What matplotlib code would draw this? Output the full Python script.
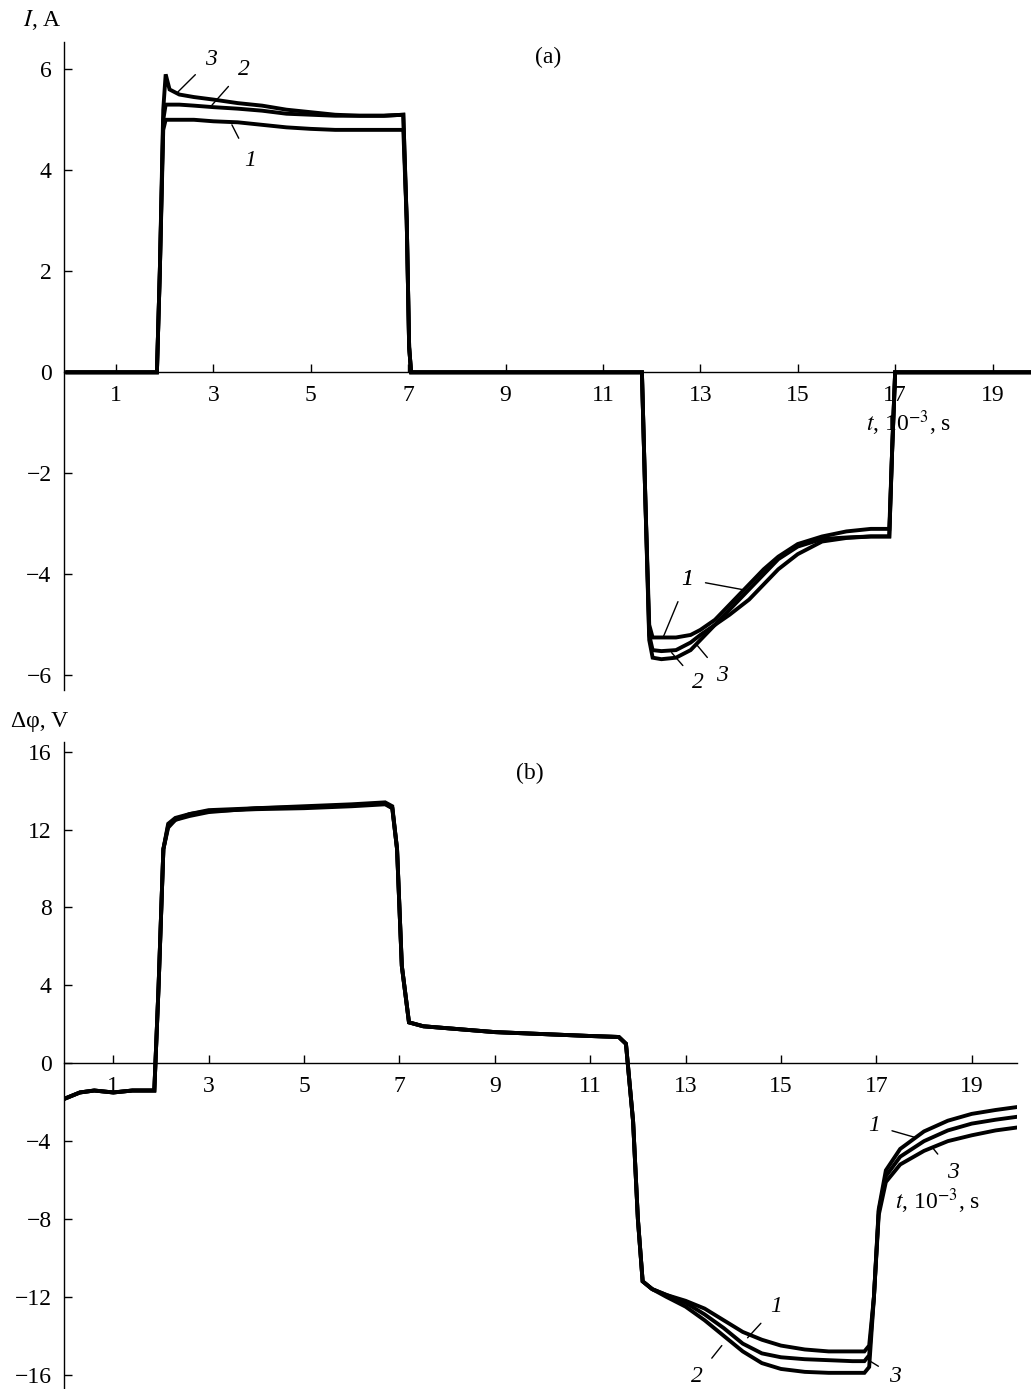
import matplotlib
matplotlib.use("Agg")
import matplotlib.pyplot as plt

plt.rcParams['font.family'] = ['Liberation Serif', 'DejaVu Serif']
plt.rcParams['mathtext.fontset'] = 'stix'

# (a) current I, A
t_a = [0.0, 1.84, 1.9, 1.97, 2.02, 2.1, 2.3, 2.6, 3.0, 3.5, 4.0, 4.5, 5.0, 5.5,
       6.0, 6.5, 6.9, 6.97, 7.02, 7.06, 8.0, 11.8, 11.87, 11.95, 12.02, 12.2,
       12.5, 12.8, 13.0, 13.3, 13.6, 14.0, 14.3, 14.6, 15.0, 15.5, 16.0, 16.5,
       16.88, 16.94, 17.0, 19.8]
I1 = [0, 0, 2.0, 4.8, 5.0, 5.0, 5.0, 5.0, 4.97, 4.95, 4.9, 4.85, 4.82, 4.8,
      4.8, 4.8, 4.8, 3.0, 0.5, 0, 0, 0, -2.5, -5.0, -5.25, -5.25, -5.25, -5.2,
      -5.1, -4.9, -4.6, -4.2, -3.9, -3.65, -3.4, -3.25, -3.15, -3.1, -3.1,
      -1.5, 0, 0]
I2 = [0, 0, 2.0, 5.0, 5.3, 5.3, 5.3, 5.28, 5.25, 5.22, 5.18, 5.12, 5.1, 5.08,
      5.08, 5.08, 5.1, 3.0, 0.5, 0, 0, 0, -2.5, -5.3, -5.65, -5.68, -5.65, -5.5,
      -5.3, -5.0, -4.7, -4.3, -4.0, -3.7, -3.45, -3.3, -3.27, -3.25, -3.25,
      -1.5, 0, 0]
I3 = [0, 0, 2.0, 5.2, 5.9, 5.6, 5.5, 5.45, 5.4, 5.33, 5.28, 5.2, 5.15, 5.1,
      5.08, 5.08, 5.1, 3.0, 0.5, 0, 0, 0, -2.5, -5.2, -5.5, -5.52, -5.5, -5.35,
      -5.2, -5.0, -4.8, -4.5, -4.2, -3.9, -3.6, -3.35, -3.28, -3.25, -3.25,
      -1.5, 0, 0]

# (b) potential difference, V
t_b = [0.0, 0.3, 0.6, 1.0, 1.4, 1.8, 1.86, 1.95, 2.05, 2.15, 2.3, 2.6, 3.0,
       3.5, 4.0, 5.0, 6.0, 6.7, 6.85, 6.95, 7.05, 7.2, 7.5, 8.0, 9.0, 10.0,
       11.0, 11.6, 11.75, 11.9, 12.0, 12.1, 12.3, 12.6, 13.0, 13.4, 13.8, 14.2,
       14.6, 15.0, 15.5, 16.0, 16.5, 16.75, 16.85, 16.95, 17.05, 17.2, 17.5,
       18.0, 18.5, 19.0, 19.5, 19.95]
U1 = [-1.8, -1.5, -1.4, -1.5, -1.4, -1.4, -1.4, 4.0, 11.0, 12.3, 12.6, 12.8,
      13.0, 13.05, 13.1, 13.2, 13.3, 13.4, 13.2, 11.0, 5.0, 2.1, 1.9, 1.8, 1.6,
      1.5, 1.4, 1.35, 1.0, -3.0, -8.0, -11.2, -11.6, -11.9, -12.2, -12.6,
      -13.2, -13.8, -14.2, -14.5, -14.7, -14.8, -14.8, -14.8, -14.5, -12.0,
      -7.5, -5.5, -4.4, -3.5, -2.95, -2.6, -2.4, -2.25]
U2 = [-1.8, -1.5, -1.4, -1.5, -1.4, -1.4, -1.4, 4.0, 11.0, 12.1, 12.5, 12.7,
      12.9, 13.0, 13.05, 13.1, 13.2, 13.3, 13.1, 11.0, 5.0, 2.1, 1.9, 1.8, 1.6,
      1.5, 1.4, 1.35, 1.0, -3.0, -8.0, -11.2, -11.6, -12.0, -12.5, -13.2,
      -14.0, -14.8, -15.4, -15.7, -15.85, -15.9, -15.9, -15.9, -15.6, -12.0,
      -7.8, -6.1, -5.2, -4.5, -4.0, -3.7, -3.45, -3.3]
U3 = [-1.8, -1.5, -1.4, -1.5, -1.4, -1.4, -1.4, 4.0, 11.0, 12.2, 12.5, 12.8,
      12.95, 13.0, 13.1, 13.15, 13.25, 13.35, 13.1, 11.0, 5.0, 2.1, 1.9, 1.8,
      1.6, 1.5, 1.4, 1.35, 1.0, -3.0, -8.0, -11.2, -11.6, -11.9, -12.3, -12.9,
      -13.6, -14.4, -14.9, -15.1, -15.2, -15.25, -15.3, -15.3, -15.0, -12.0,
      -7.6, -5.8, -4.8, -4.0, -3.45, -3.1, -2.9, -2.75]

xticks = [1, 3, 5, 7, 9, 11, 13, 15, 17, 19]
yticks_a = [-6, -4, -2, 0, 2, 4, 6]
yticks_b = [-16, -12, -8, -4, 0, 4, 8, 12, 16]

FS = 17
W, H = 1031, 1389
fig = plt.figure(figsize=(W / 100, H / 100), dpi=100)

def setup(ax, yticks):
  ax.spines['top'].set_visible(False)
  ax.spines['right'].set_visible(False)
  ax.spines['bottom'].set_position(('data', 0))
  for s in ('left', 'bottom'):
    ax.spines[s].set_linewidth(1.0)
  ax.set_xticks(xticks)
  ax.set_yticks(yticks)
  ax.set_yticklabels([str(v).replace('-', '\u2212') for v in yticks])
  ax.tick_params(axis='x', direction='in', length=6, width=1, pad=9, labelsize=FS)
  ax.tick_params(axis='y', direction='in', length=6, width=1, pad=9, labelsize=FS)
  ax.patch.set_alpha(0)

def lead(ax, text, xy, xytext):
  ax.annotate(text, xy=xy, xytext=xytext, fontsize=FS, style='italic',
              ha='center', va='center',
              arrowprops=dict(arrowstyle='-', lw=1.0, color='black',
                              shrinkA=7, shrinkB=0))

# panel (a)
ax1 = fig.add_axes([64 / W, 1 - 690 / H, (W - 64) / W, (690 - 42) / H])
for y in (I1, I2, I3):
  ax1.plot(t_a, y, color='black', lw=2.8, solid_joinstyle='miter', clip_on=False)
ax1.set_xlim(-0.068, 19.79)
ax1.set_ylim(-6.29, 6.54)
setup(ax1, yticks_a)
ax1.text(9.87, 6.24, '(a)', fontsize=FS, ha='center', va='center')
ax1.text(16.4, -1.0, '$t$, 10$^{-3}$, s', fontsize=FS, ha='left', va='center')
lead(ax1, '3', (2.27, 5.55), (2.95, 6.2))
lead(ax1, '2', (2.97, 5.29), (3.62, 6.0))
lead(ax1, '1', (3.38, 4.9), (3.75, 4.2))
lead(ax1, '1', (12.23, -5.26), (12.73, -4.1))
lead(ax1, '1', (13.91, -4.31), (12.73, -4.1))
lead(ax1, '2', (12.41, -5.55), (12.95, -6.15))
lead(ax1, '3', (12.93, -5.4), (13.45, -6.0))
fig.text(42 / W, 1 - 20 / H, '$I$, A', fontsize=FS, ha='center', va='center')

# panel (b)
ax2 = fig.add_axes([64 / W, 0, (1017 - 64) / W, (H - 742) / H])
for y in (U1, U2, U3):
  ax2.plot(t_b, y, color='black', lw=2.8, solid_joinstyle='miter')
ax2.set_xlim(-0.034, 19.95)
ax2.set_ylim(-16.73, 16.5)
setup(ax2, yticks_b)
ax2.text(9.74, 14.9, '(b)', fontsize=FS, ha='center', va='center')
ax2.text(17.4, -7.1, '$t$, 10$^{-3}$, s', fontsize=FS, ha='left', va='center')
lead(ax2, '1', (14.3, -14.1), (14.9, -12.5))
lead(ax2, '2', (13.76, -14.5), (13.24, -16.1))
lead(ax2, '3', (16.87, -15.3), (17.4, -16.1))
lead(ax2, '1', (17.8, -3.8), (16.95, -3.2))
lead(ax2, '3', (18.2, -4.4), (18.6, -5.6))
fig.text(40 / W, 1 - 722 / H, '\u0394\u03c6, V', fontsize=FS, ha='center', va='center')

fig.savefig('out.png', dpi=100)
